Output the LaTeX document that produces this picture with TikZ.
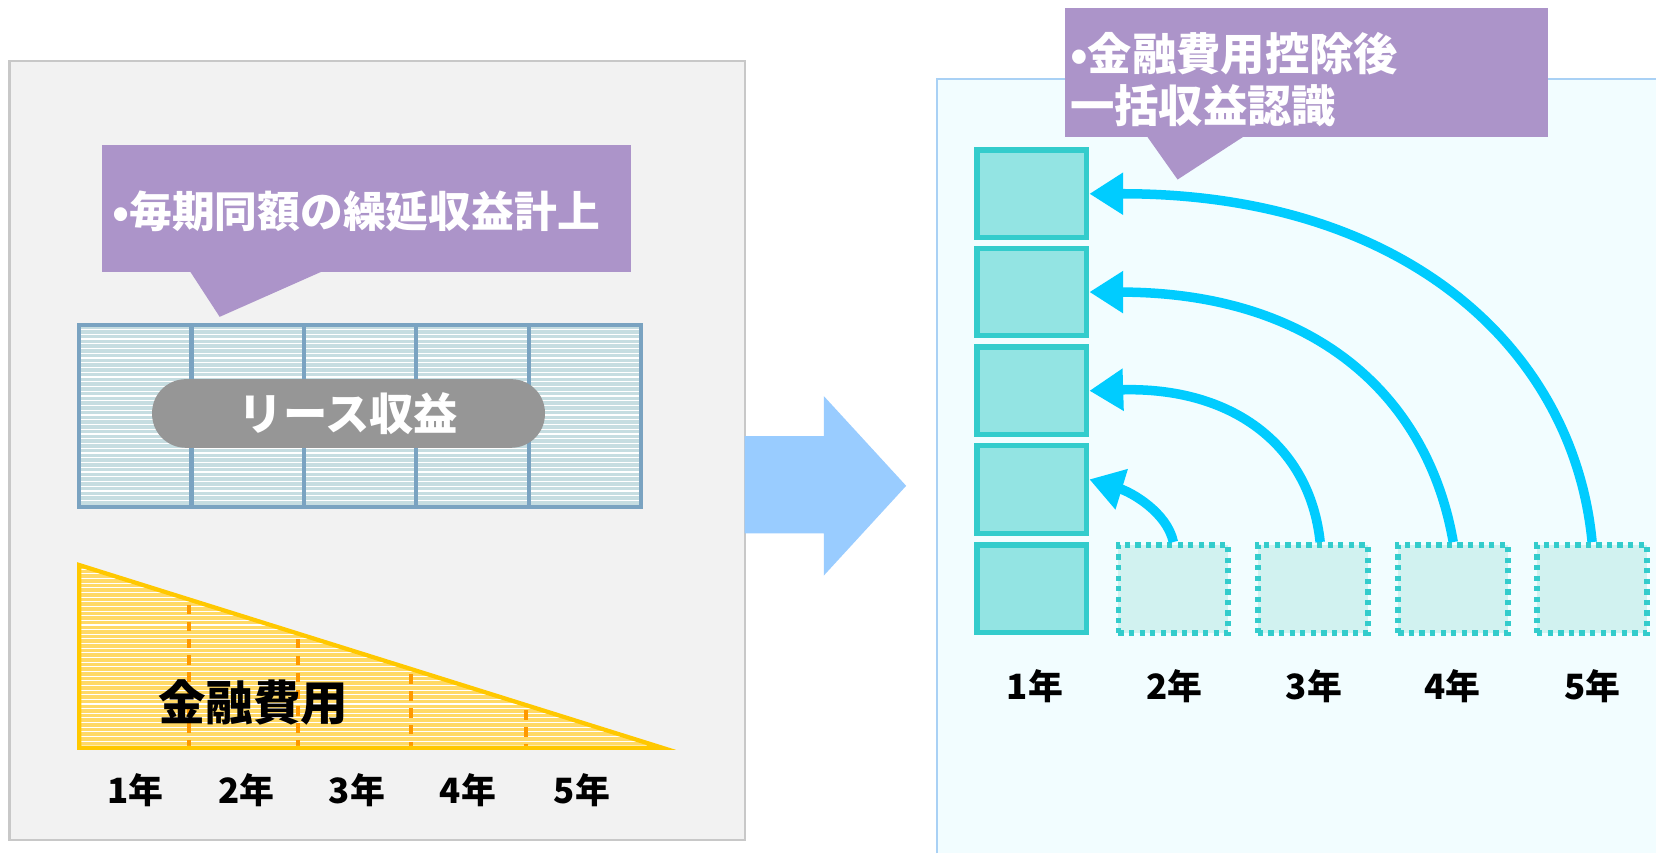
\documentclass[tikz,border=0pt]{standalone}
\usepackage{fontspec}
\setmainfont{Noto Sans CJK JP}
\usetikzlibrary{arrows.meta}
\definecolor{panelgray}{HTML}{F2F2F2}
\definecolor{panelline}{HTML}{C8C8C8}
\definecolor{callout}{HTML}{AC94C9}
\definecolor{pillgray}{HTML}{969696}
\definecolor{tablefill}{HTML}{C6DDE1}
\definecolor{tableline}{HTML}{7AA3C1}
\definecolor{yellowfill}{HTML}{FFD966}
\definecolor{yellowline}{HTML}{FFC800}
\definecolor{dashorange}{HTML}{FF9900}
\definecolor{bigarrow}{HTML}{99CCFF}
\definecolor{rightpanel}{HTML}{F2FDFF}
\definecolor{rightline}{HTML}{A9D1F5}
\definecolor{tealfill}{HTML}{93E4E3}
\definecolor{tealline}{HTML}{33CCCC}
\definecolor{lighttealfill}{HTML}{D1F2F0}
\definecolor{cyanarrow}{HTML}{00CCFF}
\tikzset{
  solidbox/.style={draw=tealline, fill=tealfill, line width=5pt, minimum width=104pt, minimum height=83pt, inner sep=0pt},
  dotbox/.style={draw=tealline, fill=lighttealfill, line width=5.5pt, dash pattern=on 5pt off 5pt, minimum width=104pt, minimum height=83pt, inner sep=0pt},
  yearlabel/.style={font=\bfseries\fontsize{33}{36}\selectfont, text=black, inner sep=0pt},
  calltext/.style={font=\bfseries\fontsize{40.5}{50}\selectfont, text=white, inner sep=0pt, align=left},
  recarrow/.style={draw=cyanarrow, line width=9pt, -{Triangle[length=32pt,width=38pt]}},
}
\begin{document}
\begin{tikzpicture}[x=1pt,y=-1pt]
\useasboundingbox (0,0) rectangle (1568,808);
\fill[white] (0,0) rectangle (1568,808);

% ---------------- left panel
\draw[panelline, fill=panelgray, line width=2pt] (9,58) rectangle (705,795);

% callout 1
\fill[callout] (97,137) rectangle (597,258);
\fill[callout] (180,257) -- (208,300) -- (305,257) -- cycle;
\node[calltext, anchor=west] (c1text) at (106,200) {•毎期同額の繰延収益計上};

% table of lease income
\fill[tablefill] (75,308) rectangle (607,480);
\begin{scope}
  \clip (75,308) rectangle (607,480);
  \foreach \yy in {312,316.5,...,480} {
    \draw[white, line width=1.2pt] (75,\yy) -- (607,\yy);
  }
\end{scope}
\draw[tableline, line width=4pt] (75,308) rectangle (607,480);
\foreach \xx in {181.4,287.8,394.2,500.6} {
  \draw[tableline, line width=4pt] (\xx,308) -- (\xx,480);
}
\node[fill=pillgray, rounded corners=32pt, minimum width=372pt, minimum height=65pt, inner sep=0pt,
      text=white, font=\bfseries\fontsize{42}{46}\selectfont] (pill) at (330,391.5) {リース収益};

% triangle of finance cost
\fill[yellowfill] (75,535) -- (627,708) -- (75,708) -- cycle;
\begin{scope}
  \clip (75,535) -- (627,708) -- (75,708) -- cycle;
  \foreach \yy in {539,543.4,...,708} {
    \draw[white, line width=1pt] (75,\yy) -- (627,\yy);
  }
\end{scope}
\foreach \xx in {179,282,389,498} {
  \draw[dashorange, line width=4pt, dash pattern=on 9pt off 7pt] (\xx,{535+(\xx-75)*0.3134+5}) -- (\xx,708);
}
\draw[yellowline, line width=4pt, line join=miter] (75,535) -- (627,708) -- (75,708) -- cycle;
\node[font=\bfseries\fontsize{45}{48}\selectfont, text=black, inner sep=0pt] (cost) at (240,665) {金融費用};

\node[yearlabel] (ly1) at (128,748) {1年};
\node[yearlabel] (ly2) at (233,748) {2年};
\node[yearlabel] (ly3) at (338,748) {3年};
\node[yearlabel] (ly4) at (443,748) {4年};
\node[yearlabel] (ly5) at (551,748) {5年};

% ---------------- big arrow
\fill[bigarrow] (705,413) -- (780,413) -- (780,375) -- (858,460) -- (780,545) -- (780,505) -- (705,505) -- cycle;

% ---------------- right panel
\fill[rightpanel] (887,75) rectangle (1568,808);
\draw[rightline, line width=2pt] (887,808) -- (887,75) -- (1568,75);

% callout 2
\fill[callout] (1008,8) rectangle (1466,130);
\fill[callout] (1086,129) -- (1115,170) -- (1178,129) -- cycle;
\node[calltext, font=\bfseries\fontsize{42}{50}\selectfont, anchor=north west] (c2text) at (1013,30) {•金融費用控除後\\一括収益認識};

% boxes
\node[solidbox] (s1) at (977,183.5) {};
\node[solidbox] (s2) at (977,276.5) {};
\node[solidbox] (s3) at (977,370) {};
\node[solidbox] (s4) at (977,463.5) {};
\node[solidbox] (s5) at (977,557.5) {};
\node[dotbox] (d2) at (1111,557.5) {};
\node[dotbox] (d3) at (1243,557.5) {};
\node[dotbox] (d4) at (1376,557.5) {};
\node[dotbox] (d5) at (1507.5,557.5) {};

\node[yearlabel] (ry1) at (980,650) {1年};
\node[yearlabel] (ry2) at (1112,650) {2年};
\node[yearlabel] (ry3) at (1244,650) {3年};
\node[yearlabel] (ry4) at (1375,650) {4年};
\node[yearlabel] (ry5) at (1508,650) {5年};

% recognition arrows
\draw[recarrow] (d2.north) .. controls (1105,485) and (1071,466) .. (s4.10);
\draw[recarrow] ([xshift=7pt]d3.north) .. controls (1240,420) and (1165,366) .. (s3.east);
\draw[recarrow] (d4.north) .. controls (1352,375) and (1245,277) .. (s2.east);
\draw[recarrow] (d5.north) .. controls (1490,330) and (1330,183) .. (s1.east);
\end{tikzpicture}
\end{document}
